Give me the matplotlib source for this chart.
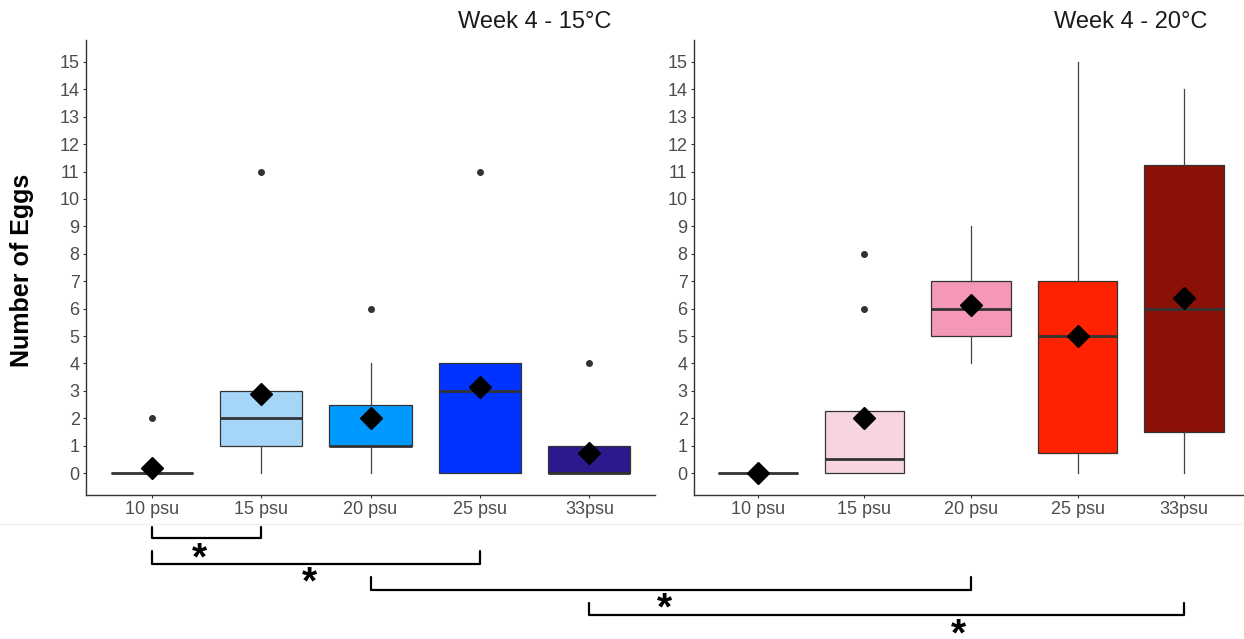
import matplotlib
matplotlib.use("Agg")
import matplotlib.pyplot as plt
from matplotlib.lines import Line2D

# ================= DATA =================
categories = ["10 psu", "15 psu", "20 psu", "25 psu", "33psu"]

# Week 4 - 15°C
t15_q1 = [0, 1, 1, 0, 0]
t15_med = [0, 2, 1, 3, 0]
t15_q3 = [0, 3, 2.5, 4, 1]
t15_lo = [0, 0, 0, 0, 0]
t15_hi = [0, 3, 4, 4, 1]
t15_out = [[2], [11], [6], [11], [4]]
t15_mean = [0.2, 2.875, 2.0, 3.125, 0.75]
t15_colors = ["#FFFFFF", "#A6D6F7", "#0099FF", "#0033FF", "#2B1A8E"]

# Week 4 - 20°C
t20_q1 = [0, 0, 5, 0.75, 1.5]
t20_med = [0, 0.5, 6, 5, 6]
t20_q3 = [0, 2.25, 7, 7, 11.25]
t20_lo = [0, 0, 4, 0, 0]
t20_hi = [0, 2.25, 9, 15, 14]
t20_out = [[], [6, 8], [], [], []]
t20_mean = [0.0, 2.0, 6.125, 5.0, 6.375]
t20_colors = ["#FFFFFF", "#F6D4E2", "#F497B8", "#FF2200", "#8B1005"]

yticks = list(range(0, 16))

# significance brackets: (panel, category) -> (panel, category)
bracket_from = [(0, 0), (0, 0), (0, 2), (0, 4)]
bracket_to = [(0, 1), (0, 3), (1, 2), (1, 4)]

# ================= LAYOUT / STYLE =================
W, H = 1244, 639
EDGE = "#333333"
TICK_COLOR = "#4D4D4D"
FONT = "Liberation Sans"

# bracket pixel rows (top of ends, horizontal bar, star centre) and star fraction
br_top = [527, 551, 577, 603]
br_bar = [538, 564, 590, 615]
br_star = [552, 576, 602, 628]
star_frac = [0.44, 0.48, 0.49, 0.62]
STAR_SIZE = 28

plt.rcParams["font.family"] = [FONT, "DejaVu Sans"]

fig = plt.figure(figsize=(W / 100, H / 100), dpi=100, facecolor="white")

ax_l = fig.add_axes([86 / W, 1 - 495 / H, (655 - 86) / W, (495 - 40) / H])
ax_r = fig.add_axes([694 / W, 1 - 495 / H, (1248 - 694) / W, (495 - 40) / H])


def draw_panel(ax, q1, med, q3, lo, hi, out, mean, colors):
    stats = []
    for i in range(len(categories)):
        stats.append({
            "q1": q1[i], "med": med[i], "q3": q3[i],
            "whislo": lo[i], "whishi": hi[i],
            "fliers": out[i], "label": categories[i],
        })
    pos = list(range(1, len(categories) + 1))
    bp = ax.bxp(
        stats, positions=pos, widths=0.75, patch_artist=True,
        showcaps=False,
        boxprops=dict(edgecolor=EDGE, linewidth=0.9),
        whiskerprops=dict(color="#444444", linewidth=0.9),
        medianprops=dict(color=EDGE, linewidth=2.0, solid_capstyle="butt"),
        flierprops=dict(marker="o", markersize=4, markerfacecolor=EDGE,
                        markeredgecolor=EDGE, linestyle="none"),
    )
    for patch, c in zip(bp["boxes"], colors):
        patch.set_facecolor(c)
    ax.plot(pos, mean, linestyle="none", marker="D", markersize=11,
            color="black", zorder=5)

    ax.set_xlim(0.4, len(categories) + 0.6)
    ax.set_ylim(-0.8, 15.8)
    ax.set_yticks(yticks)
    ax.set_xticks(pos)
    ax.set_xticklabels(categories)
    for side in ["top", "right"]:
        ax.spines[side].set_visible(False)
    for side in ["left", "bottom"]:
        ax.spines[side].set_color(EDGE)
        ax.spines[side].set_linewidth(1.0)
    ax.tick_params(axis="both", colors=EDGE, labelcolor=TICK_COLOR,
                   labelsize=13, length=2.5, width=0.8, pad=2)


draw_panel(ax_l, t15_q1, t15_med, t15_q3, t15_lo, t15_hi, t15_out,
           t15_mean, t15_colors)
draw_panel(ax_r, t20_q1, t20_med, t20_q3, t20_lo, t20_hi, t20_out,
           t20_mean, t20_colors)

# titles and axis label
fig.text(535 / W, 1 - 28 / H, "Week 4 - 15°C", ha="center", va="baseline",
         fontsize=17, color="#1A1A1A")
fig.text(1131 / W, 1 - 28 / H, "Week 4 - 20°C", ha="center", va="baseline",
         fontsize=17, color="#1A1A1A")
fig.text(22 / W, 1 - 270 / H, "Number of Eggs", rotation=90, ha="center",
         va="center", fontsize=18, fontweight="bold", color="black")

# faint edge of the plot area
fig.add_artist(Line2D([0, 1], [1 - 524 / H] * 2, color="#F0F0F0", lw=1.0))

# significance brackets
panels = [ax_l, ax_r]
to_fig = fig.transFigure.inverted()


def fig_x(panel, cat):
    ax = panels[panel]
    return to_fig.transform(ax.transData.transform((cat + 1, 0)))[0]


# the bold asterisk glyph sits ~0.45 em above the baseline
star_drop = 0.45 * STAR_SIZE * 100 / 72

for i in range(len(bracket_from)):
    x0 = fig_x(*bracket_from[i])
    x1 = fig_x(*bracket_to[i])
    yt = 1 - br_top[i] / H
    yb = 1 - br_bar[i] / H
    fig.add_artist(Line2D([x0, x0, x1, x1], [yt, yb, yb, yt], color="black",
                          lw=1.6, solid_joinstyle="round",
                          solid_capstyle="round"))
    xs = x0 + star_frac[i] * (x1 - x0)
    fig.text(xs, 1 - (br_star[i] + star_drop) / H, "*", ha="center",
             va="baseline", fontsize=STAR_SIZE, fontweight="bold",
             color="black")

plt.savefig("out.png", dpi=100, facecolor="white")
plt.close()
